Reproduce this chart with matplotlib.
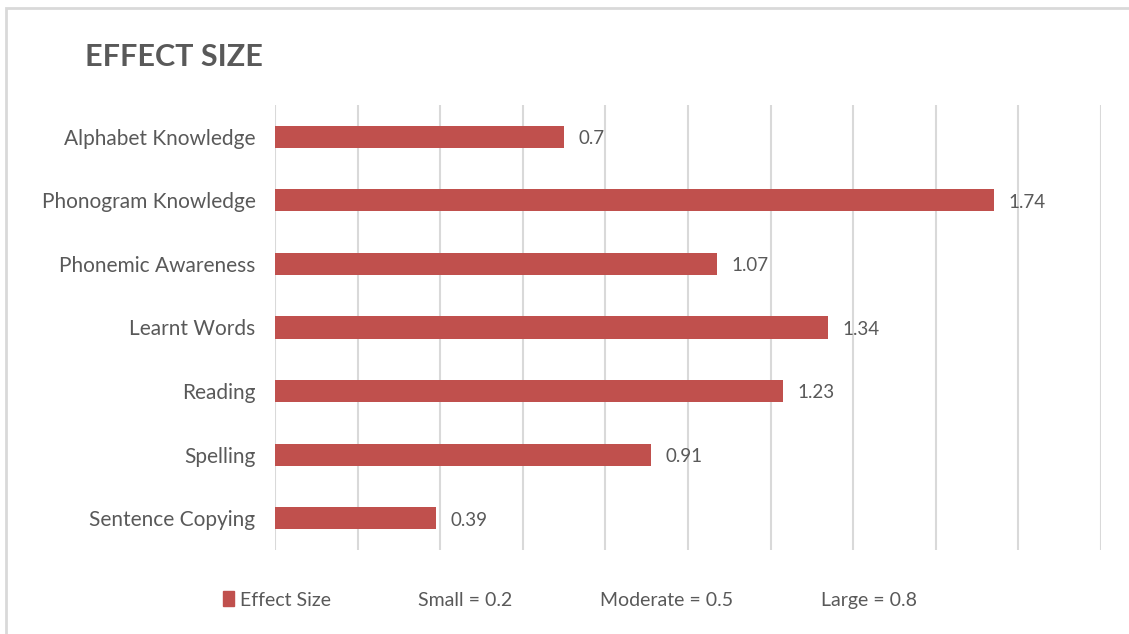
import matplotlib
matplotlib.use("Agg")
import matplotlib.pyplot as plt
from matplotlib.patches import Rectangle

categories = ["Alphabet Knowledge", "Phonogram Knowledge", "Phonemic Awareness",
              "Learnt Words", "Reading", "Spelling", "Sentence Copying"]
effect = [0.7, 1.74, 1.07, 1.34, 1.23, 0.91, 0.39]
extra_labels = ["Small = 0.2", "Moderate = 0.5", "Large = 0.8"]

bar_color = "#C0504D"
text_color = "#595959"
grid_color = "#D9D9D9"

plt.rcParams["font.family"] = ["Lato", "DejaVu Sans"]

fig = plt.figure(figsize=(11.29, 6.34), dpi=100)
ax = fig.add_axes([0.2436, 0.1325, 0.7316, 0.7019])

# chart border
fig.patches.append(Rectangle((6 / 1129, -0.1), 1.2, 1 - 8 / 634 + 0.1, transform=fig.transFigure,
                             fill=False, edgecolor="#D9D9D9", linewidth=2))

y = list(range(len(categories)))
ax.barh(y, effect, height=0.35, color=bar_color, zorder=3)
for yi, v in zip(y, effect):
    ax.text(v + 0.035, yi + 0.03, str(v), va="center", ha="left", fontsize=13.5,
            color=text_color, zorder=4)

ax.set_xlim(0, 2.0)
ax.set_ylim(len(categories) - 0.5, -0.5)
ax.set_xticks([i * 0.2 for i in range(11)])
ax.xaxis.grid(True, color=grid_color, linewidth=1.5, zorder=0)
ax.set_xticklabels([])
ax.tick_params(axis="x", length=0)
ax.set_yticks(y)
ax.set_yticklabels(categories, fontsize=15, color=text_color)
ax.tick_params(axis="y", length=0, pad=14)
for s in ax.spines.values():
    s.set_visible(False)

fig.text(85 / 1129, 1 - 57 / 634, "EFFECT SIZE", fontsize=22, fontweight="bold",
         color=text_color, va="center", ha="left")

handles = [Rectangle((0, 0), 1, 1, color=bar_color)]
handles += [Rectangle((0, 0), 1, 1, alpha=0) for _ in extra_labels]
leg = fig.legend(handles, ["Effect Size"] + extra_labels, loc="center left",
                 bbox_to_anchor=(205 / 1129, 1 - 600 / 634), ncol=4, frameon=False,
                 fontsize=14, labelcolor=text_color, handlelength=0.6,
                 handleheight=0.8, handletextpad=0.3, columnspacing=3.6)

fig.savefig("out.png", dpi=100)
